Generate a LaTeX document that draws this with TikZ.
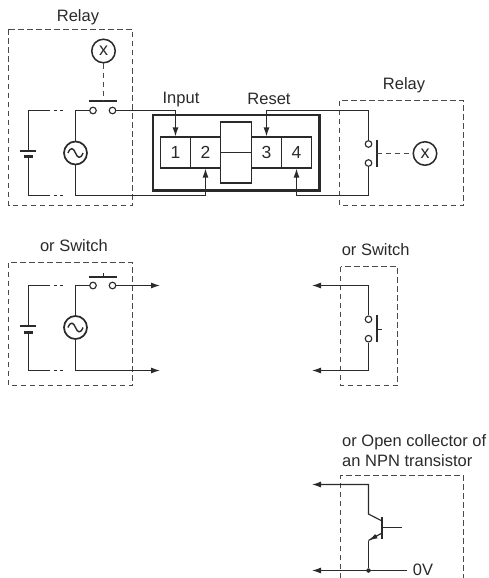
\documentclass[tikz,border=0pt]{standalone}
\usepackage{fontspec}
\setmainfont{Liberation Sans}
\usetikzlibrary{arrows.meta,calc}
\definecolor{ink}{HTML}{2B2A2A}
\tikzset{
  wire/.style={draw=ink,line width=1.15pt,line join=miter},
  arrowed/.style={wire,-{Latex[length=9pt,width=6pt]}},
  dashbox/.style={draw=ink!85,line width=1.1pt,dash pattern=on 5.5pt off 3.5pt},
  mech/.style={draw=ink!85,line width=1.1pt,dash pattern=on 5.5pt off 3.5pt},
  plate/.style={draw=ink,line width=1.7pt},
  contact/.style={circle,draw=ink,line width=1.1pt,fill=white,minimum size=6.6pt,inner sep=0pt},
  coil/.style={circle,draw=ink,line width=1.5pt,fill=white,minimum size=23.5pt,inner sep=0pt,font=\fontsize{18}{18}\selectfont,text=ink},
  source/.style={circle,draw=ink,line width=1.7pt,fill=white,minimum size=23pt,inner sep=0pt},
  label/.style={inner sep=0pt,text=ink,font=\fontsize{16.5}{19}\selectfont},
  cell/.style={draw=ink,line width=1.1pt,minimum width=30pt,minimum height=31pt,inner sep=0pt,text=ink,font=\fontsize{17.5}{17.5}\selectfont},
  wave/.pic={\draw[ink,line width=1.4pt] (-7.5,0) .. controls (-5,-6.5) and (-2,-5) .. (0,0) .. controls (2,5) and (5,6.5) .. (7.5,0);}
}
\begin{document}
\begin{tikzpicture}[x=1pt,y=-1pt]
\useasboundingbox (0,0) rectangle (489,578);

% ---- top left relay
\node[label] (relayA) at (78,17) {Relay};
\path[dashbox] (8.5,29.5) rectangle (132.5,205.5);
\node[coil] (coilA) at (103.5,51) {x};
\coordinate (barAl) at (89,101);
\coordinate (barAr) at (116.5,101);
\coordinate (barAm) at (103.5,101);
\draw[plate] (barAl) -- (barAr);
\draw[mech] (coilA) -- (barAm);
\node[contact] (cA1) at (93,110.5) {};
\node[contact] (cA2) at (112.5,110.5) {};
\node[source] (acA) at (75.5,153) {};
\pic at (acA.center) {wave};
\coordinate (batA1) at (20,151);
\coordinate (batA2) at (36,151);
\coordinate (batAtop) at (28.5,151);
\coordinate (batA3) at (23.5,156.5);
\coordinate (batA4) at (32.5,156.5);
\coordinate (batAbot) at (28.5,156.5);
\draw[plate] (batA1) -- (batA2);
\draw[draw=ink,line width=3pt] (batA3) -- (batA4);
\coordinate (tlA) at (28.5,110.5);
\coordinate (blA) at (28.5,195.5);
\coordinate (tmA) at (75.5,110.5);
\coordinate (bmA) at (75.5,195.5);
\draw[wire] (batAtop) -- (tlA) -- (50,110.5);
\draw[wire] (53.5,110.5) -- (57,110.5) (60,110.5) -- (63,110.5);
\draw[wire] (batAbot) -- (blA) -- (50,195.5);
\draw[wire] (53.5,195.5) -- (57,195.5) (60,195.5) -- (63,195.5);
\draw[wire] (acA) -- (tmA) -- (cA1);
\draw[wire] (acA) -- (bmA) -- (205.5,195.5);

% ---- main module
\path[draw=ink,line width=2.6pt] (153,115) rectangle (319.5,190.5);
\node[cell] (t1) at (175.5,152.5) {1};
\node[cell] (t2) at (205.5,152.5) {2};
\node[cell,minimum height=61pt,minimum width=31pt] (mid) at (236,152.5) {};
\draw[wire] (mid.west) -- (mid.east);
\node[cell] (t3) at (266.5,152.5) {3};
\node[cell] (t4) at (296.5,152.5) {4};
\node[label] (input) at (181,100) {Input};
\node[label] (reset) at (269,99) {Reset};
\draw[arrowed] (cA2) -- (175.5,110.5) -- (t1.north);
\draw[arrowed] (205.5,195.5) -- (t2.south);

% ---- right relay
\node[label] (relayB) at (404,85.5) {Relay};
\path[dashbox] (339.5,100.5) rectangle (463.5,205.5);
\node[contact] (cB1) at (368.5,144) {};
\node[contact] (cB2) at (368.5,163) {};
\node[coil] (coilB) at (425,153.5) {x};
\coordinate (barB1) at (376.7,140);
\coordinate (barB2) at (376.7,167);
\coordinate (barBm) at (376.7,153.5);
\draw[plate] (barB1) -- (barB2);
\draw[mech] (barBm) -- (coilB);
\draw[arrowed] (cB1) -- (368.5,110.5) -- (266.5,110.5) -- (t3.north);
\draw[arrowed] (cB2) -- (368.5,195.5) -- (296.5,195.5) -- (t4.south);

% ---- left switch
\node[label] (swA) at (74,246) {or Switch};
\path[dashbox] (8.5,262.5) rectangle (132.5,385.5);
\coordinate (barCl) at (89,276.7);
\coordinate (barCr) at (116.5,276.7);
\draw[plate] (barCl) -- (barCr);
\coordinate (tickC1) at (103.5,276.7);
\coordinate (tickC2) at (103.5,272.5);
\draw[wire] (tickC1) -- (tickC2);
\node[contact] (cC1) at (93,285.5) {};
\node[contact] (cC2) at (112.5,285.5) {};
\node[source] (acC) at (75.5,327.5) {};
\pic at (acC.center) {wave};
\coordinate (batC1) at (20,326);
\coordinate (batC2) at (36,326);
\coordinate (batCtop) at (28.5,326);
\coordinate (batC3) at (23.5,332);
\coordinate (batC4) at (32.5,332);
\coordinate (batCbot) at (28.5,332);
\draw[plate] (batC1) -- (batC2);
\draw[draw=ink,line width=3pt] (batC3) -- (batC4);
\coordinate (tlC) at (28.5,285.5);
\coordinate (blC) at (28.5,370.5);
\coordinate (tmC) at (75.5,285.5);
\coordinate (bmC) at (75.5,370.5);
\coordinate (endC1) at (160,285.5);
\coordinate (endC2) at (160,370.5);
\draw[wire] (batCtop) -- (tlC) -- (50,285.5);
\draw[wire] (53.5,285.5) -- (57,285.5) (60,285.5) -- (63,285.5);
\draw[wire] (batCbot) -- (blC) -- (50,370.5);
\draw[wire] (53.5,370.5) -- (57,370.5) (60,370.5) -- (63,370.5);
\draw[wire] (acC) -- (tmC) -- (cC1);
\draw[arrowed] (cC2) -- (endC1);
\draw[arrowed] (acC) -- (bmC) -- (endC2);

% ---- right switch
\node[label] (swB) at (375.7,250) {or Switch};
\path[dashbox] (340.5,266.5) rectangle (397.5,385.5);
\node[contact] (cD1) at (368.5,319.3) {};
\node[contact] (cD2) at (368.5,338.7) {};
\coordinate (barD1) at (376.7,315);
\coordinate (barD2) at (376.7,342);
\draw[plate] (barD1) -- (barD2);
\coordinate (tickD1) at (376.7,329.5);
\coordinate (tickD2) at (381.5,329.5);
\draw[wire] (tickD1) -- (tickD2);
\coordinate (endD1) at (312,285.5);
\coordinate (endD2) at (312,370.5);
\draw[arrowed] (cD1) -- (368.5,285.5) -- (endD1);
\draw[arrowed] (cD2) -- (368.5,370.5) -- (endD2);

% ---- transistor
\node[label,anchor=west] (ocA) at (342,442) {or Open collector of};
\node[label,anchor=west] (ocB) at (342,461) {an NPN transistor};
\path[dashbox] (340.5,578) -- (340.5,475.5) -- (463.5,475.5) -- (463.5,578);
\coordinate (baseT) at (382,517);
\coordinate (baseB) at (382,539);
\coordinate (baseM) at (382,527.5);
\coordinate (baseEnd) at (402,527.5);
\coordinate (colEnd) at (382,521);
\coordinate (colKnee) at (368.5,514);
\coordinate (emStart) at (382,533);
\coordinate (emEnd) at (368.5,540.5);
\coordinate (busT) at (368.5,484.5);
\coordinate (arrT) at (312,484.5);
\coordinate (arrB) at (312,570.5);
\coordinate (busEnd) at (407,570.5);
\draw[plate] (baseT) -- (baseB);
\draw[wire] (baseM) -- (baseEnd);
\draw[arrowed] (colEnd) -- (colKnee) -- (busT) -- (arrT);
\draw[wire] (emStart) -- (emEnd);
\draw[wire,-{Latex[length=9pt,width=5pt]}] (377,535.8) -- (emEnd);
\node[circle,fill=ink,minimum size=4.5pt,inner sep=0pt] (dot) at (368.5,570.5) {};
\draw[wire] (emEnd) -- (dot);
\draw[arrowed] (busEnd) -- (arrB);
\node[label] (zero) at (423,570) {0V};
\end{tikzpicture}
\end{document}
